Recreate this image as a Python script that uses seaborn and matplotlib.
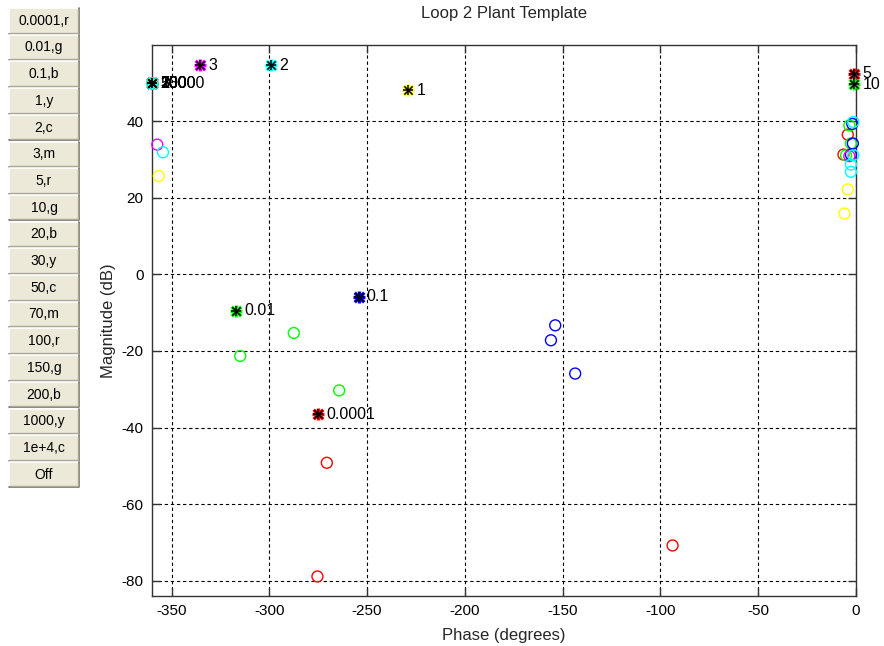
import matplotlib
matplotlib.use("Agg")
import matplotlib.pyplot as plt
import seaborn as sns
import pandas as pd
from matplotlib.patches import Rectangle
from matplotlib.lines import Line2D

# ---------------- data ----------------
button_labels = ["0.0001,r", "0.01,g", "0.1,b", "1,y", "2,c", "3,m", "5,r", "10,g",
                 "20,b", "30,y", "50,c", "70,m", "100,r", "150,g", "200,b",
                 "1000,y", "1e+4,c", "Off"]

nominal_labels = ["0.0001", "0.01", "0.1", "1", "2", "3", "5", "10",
                  "20", "30", "50", "70", "100", "150", "200", "1000", "10000"]
nominal_colors = ["r", "g", "b", "y", "c", "m", "r", "g",
                  "b", "y", "c", "m", "r", "g", "b", "y", "c"]
nominal_phase = [-274.9, -316.8, -254.4, -228.9, -299.4, -335.2, -1.0, -1.0,
                 -360, -360, -360, -360, -360, -360, -360, -360, -360]
nominal_mag = [-36.5, -9.5, -5.8, 48.1, 54.6, 54.6, 52.4, 49.7,
               49.9, 49.9, 49.9, 49.9, 49.9, 49.9, 49.9, 49.9, 49.9]

template_colors = ["r", "r", "r", "r", "r",
                   "g", "g", "g", "g", "g", "g",
                   "b", "b", "b", "b", "b", "b",
                   "m", "m",
                   "c", "c", "c", "c", "c",
                   "y", "y", "y"]
template_phase = [-270.6, -275.4, -93.8, -4.2, -6.4,
                  -287.5, -314.9, -264.3, -3.4, -2.6, -5.1,
                  -153.8, -156.0, -143.6, -1.9, -1.6, -2.6,
                  -357.3, -3.4,
                  -354.4, -1.4, -1.4, -2.6, -2.6,
                  -356.5, -4.2, -5.9]
template_mag = [-49.2, -78.9, -70.8, 36.5, 31.3,
                -15.3, -21.3, -30.3, 38.9, 34.2, 31.1,
                -13.3, -17.2, -25.9, 39.3, 34.2, 31.3,
                33.9, 30.9,
                31.9, 39.8, 31.1, 28.7, 26.8,
                25.7, 22.2, 15.9]

x_ticks = [-350, -300, -250, -200, -150, -100, -50, 0]
y_ticks = [-80, -60, -40, -20, 0, 20, 40]

matlab_colors = {"r": (1, 0, 0), "g": (0, 1, 0), "b": (0, 0, 1),
                 "y": (1, 1, 0), "c": (0, 1, 1), "m": (1, 0, 1)}

# ---------------- style ----------------
sns.set_theme(style="white")
plt.rcParams["font.family"] = ["Liberation Sans", "DejaVu Sans"]
plt.rcParams["axes.unicode_minus"] = False

W, H = 884, 646
fig = plt.figure(figsize=(W / 100, H / 100), dpi=100)
fig.patch.set_facecolor("white")

def px_ax(l, t, r, b):
    return [l / W, 1 - b / H, (r - l) / W, (b - t) / H]

ax = fig.add_axes(px_ax(152, 44.7, 856, 596))
ax.set_facecolor("white")

tdf = pd.DataFrame({"phase": template_phase, "mag": template_mag, "col": template_colors})
for c, g in tdf.groupby("col", sort=False):
    sns.scatterplot(data=g, x="phase", y="mag", ax=ax, marker="o", s=62,
                    color=matlab_colors[c], facecolor="none",
                    edgecolor=matlab_colors[c], linewidth=1.0,
                    clip_on=False, zorder=3, legend=False)

ndf = pd.DataFrame({"phase": nominal_phase, "mag": nominal_mag,
                    "col": nominal_colors, "lab": nominal_labels})
for _, row in ndf.iterrows():
    col = matlab_colors[row["col"]]
    # coloured halo (asterisk drawn thick)
    for mk, sz in (("+", 75), ("x", 48)):
        sns.scatterplot(x=[row["phase"]], y=[row["mag"]], ax=ax, marker=mk, s=sz,
                        color=col, linewidth=2.4,
                        clip_on=False, zorder=4, legend=False)
    # black asterisk on top
    for mk, sz in (("+", 55), ("x", 35)):
        sns.scatterplot(x=[row["phase"]], y=[row["mag"]], ax=ax, marker=mk, s=sz,
                        color="black", linewidth=1.1,
                        clip_on=False, zorder=5, legend=False)
    ax.annotate(row["lab"], (row["phase"], row["mag"]), xytext=(6, 0),
                textcoords="offset points", ha="left", va="center",
                fontsize=11.5, color="black", zorder=6, annotation_clip=False)

ax.set_xlim(-360, 0)
ax.set_ylim(-84, 60)
ax.set_xticks(x_ticks)
ax.set_yticks(y_ticks)
ax.set_xticklabels([str(v) for v in x_ticks])
ax.set_yticklabels([str(v) for v in y_ticks])
ax.tick_params(direction="in", length=6, width=1, colors="#333333",
               labelcolor="black", labelsize=11, top=True, right=True,
               bottom=True, left=True, pad=6)
ax.grid(True, color="black", linestyle=(0, (3, 2.5)), linewidth=0.8)
ax.set_axisbelow(True)
for s in ax.spines.values():
    s.set_visible(True)
    s.set_color("#333333")
    s.set_linewidth(1.0)

ax.set_title("Loop 2 Plant Template", fontsize=12, pad=19)
ax.set_xlabel("Phase (degrees)", fontsize=12, labelpad=7)
ax.set_ylabel("Magnitude (dB)", fontsize=12, labelpad=4)

# ---------------- buttons ----------------
bx0, bx1 = 9, 79
for i, lab in enumerate(button_labels):
    top = 8 + i * 26.7
    bot = top + 25.5
    x0, y0 = bx0 / W, 1 - bot / H
    w, h = (bx1 - bx0) / W, (bot - top) / H
    fig.patches.append(Rectangle((x0, y0), w, h, transform=fig.transFigure,
                                 facecolor="#ECE9D8", edgecolor="none"))
    fig.lines.append(Line2D([x0, x0, x0 + w], [y0, y0 + h, y0 + h],
                            transform=fig.transFigure, color="white", lw=1.2))
    fig.lines.append(Line2D([x0, x0 + w, x0 + w], [y0, y0, y0 + h],
                            transform=fig.transFigure, color="#716F64", lw=1.2))
    fig.lines.append(Line2D([x0 + 1 / W, x0 + w - 1 / W, x0 + w - 1 / W],
                            [y0 + 1 / H, y0 + 1 / H, y0 + h - 1 / H],
                            transform=fig.transFigure, color="#ACA899", lw=1.0))
    fig.text(x0 + w / 2, y0 + h / 2, lab, ha="center", va="center",
             fontsize=10, color="black")

fig.savefig("out.png", dpi=100, facecolor="white")
